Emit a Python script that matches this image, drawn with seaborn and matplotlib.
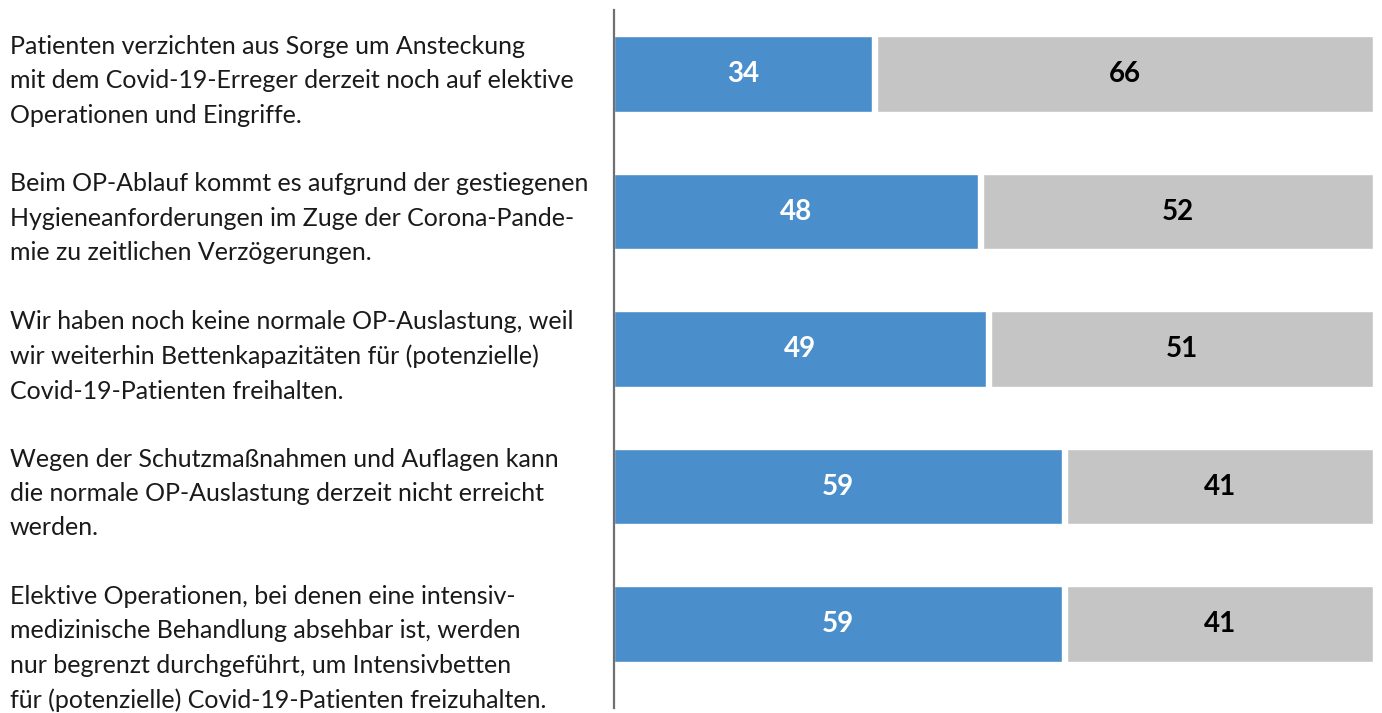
import numpy as np
import pandas as pd
import matplotlib
matplotlib.use("Agg")
import matplotlib.pyplot as plt
import matplotlib.transforms as mtransforms
import seaborn as sns

sns.set_theme(style="white")
plt.rcParams['font.family'] = ['Lato', 'DejaVu Sans']

# Aussagen (Kategorien) und Anteile in Prozent
aussagen = [
    "Patienten verzichten aus Sorge um Ansteckung\nmit dem Covid-19-Erreger derzeit noch auf elektive\nOperationen und Eingriffe.",
    "Beim OP-Ablauf kommt es aufgrund der gestiegenen\nHygieneanforderungen im Zuge der Corona-Pande-\nmie zu zeitlichen Verzögerungen.",
    "Wir haben noch keine normale OP-Auslastung, weil\nwir weiterhin Bettenkapazitäten für (potenzielle)\nCovid-19-Patienten freihalten.",
    "Wegen der Schutzmaßnahmen und Auflagen kann\ndie normale OP-Auslastung derzeit nicht erreicht\nwerden.",
    "Elektive Operationen, bei denen eine intensiv-\nmedizinische Behandlung absehbar ist, werden\nnur begrenzt durchgeführt, um Intensivbetten\nfür (potenzielle) Covid-19-Patienten freizuhalten.",
]
ja = [34, 48, 49, 59, 59]
nein = [66, 52, 51, 41, 41]

BLAU = "#4a8fcc"
GRAU = "#c5c5c5"
LUECKE = 0.65  # weisse Fuge zwischen den Segmenten

df = pd.DataFrame({"aussage": [str(i) for i in range(len(aussagen))],
                   "ja": ja, "nein": nein})
df["gesamt"] = df["ja"] + df["nein"]
df["fuge"] = df["ja"] + LUECKE

fig = plt.figure(figsize=(13.82, 7.13), dpi=100)
ax = fig.add_axes([614 / 1382, 5 / 713, (1373 - 614) / 1382, 698 / 713])

breite = 0.549
sns.barplot(data=df, x="gesamt", y="aussage", color=GRAU, width=breite,
            saturation=1, ax=ax, orient="h")
sns.barplot(data=df, x="fuge", y="aussage", color="white", width=breite,
            saturation=1, ax=ax, orient="h")
sns.barplot(data=df, x="ja", y="aussage", color=BLAU, width=breite,
            saturation=1, ax=ax, orient="h")

ax.set_xlim(0, 100)
ax.set_ylim(4.609, -0.465)
ax.set_xlabel("")
ax.set_ylabel("")
ax.set_xticks([])
ax.set_yticks([])
for s in ["top", "right", "bottom"]:
    ax.spines[s].set_visible(False)
ax.spines["left"].set_color("#707070")
ax.spines["left"].set_linewidth(1.6)

# Werte in die Segmente schreiben
for i in range(len(ja)):
    ax.text(ja[i] / 2, i, str(ja[i]), ha="center", va="center",
            color="white", fontsize=20, fontweight="bold")
    ax.text(ja[i] + LUECKE + (nein[i] - LUECKE) / 2, i, str(nein[i]),
            ha="center", va="center", color="black", fontsize=20,
            fontweight="bold")

# Aussagen links, oben an der Balkenkante ausgerichtet
trans = mtransforms.blended_transform_factory(fig.transFigure, ax.transData)
for i, txt in enumerate(aussagen):
    ax.text(10 / 1382, i - breite / 2 - 0.01, txt, transform=trans,
            ha="left", va="top", fontsize=18, color="#1a1a1a",
            linespacing=1.6, clip_on=False)

fig.savefig("out.png", dpi=100, facecolor="white")
